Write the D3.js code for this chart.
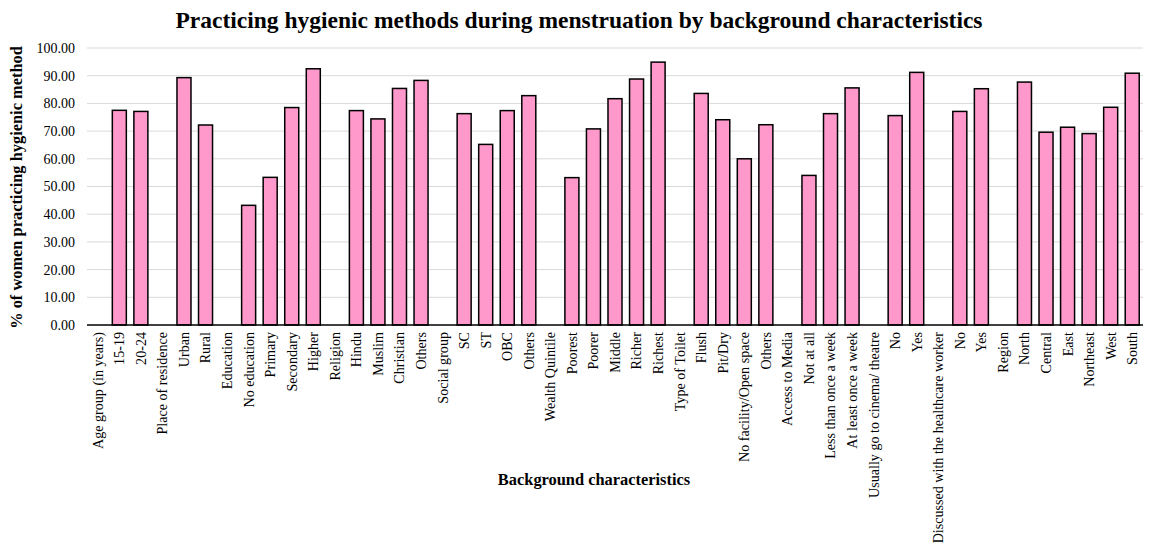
<!DOCTYPE html>
<html>
<head>
<meta charset="utf-8">
<script src="https://cdn.jsdelivr.net/npm/d3@7"></script>
<style>
  html, body { margin: 0; padding: 0; background: #fff; }
  svg { display: block; }
  svg text { font-family: "Liberation Serif", "Times New Roman", serif; fill: #000; }
</style>
</head>
<body>
<svg id="chart" width="1152" height="544"></svg>
<script>
// Category labels along the x axis (group headers have no bar)
const categories = [
  "Age group (in years)", "15-19", "20-24",
  "Place of residence", "Urban", "Rural",
  "Education", "No education", "Primary", "Secondary", "Higher",
  "Religion", "Hindu", "Muslim", "Christian", "Others",
  "Social group", "SC", "ST", "OBC", "Others",
  "Wealth Quintile", "Poorest", "Poorer", "Middle", "Richer", "Richest",
  "Type of Toilet", "Flush", "Pit/Dry", "No facility/Open space", "Others",
  "Access to Media", "Not at all", "Less than once a week", "At least once a week",
  "Usually go to cinema/ theatre", "No", "Yes",
  "Discussed with the healthcare worker", "No", "Yes",
  "Region", "North", "Central", "East", "Northeast", "West", "South"
];

// % of women practicing hygienic method (null = group header)
const values = [
  null, 77.5, 77.1,
  null, 89.3, 72.2,
  null, 43.2, 53.3, 78.5, 92.5,
  null, 77.4, 74.4, 85.4, 88.3,
  null, 76.3, 65.2, 77.4, 82.8,
  null, 53.2, 70.8, 81.7, 88.8, 94.9,
  null, 83.6, 74.1, 60.0, 72.3,
  null, 54.0, 76.3, 85.6,
  null, 75.6, 91.2,
  null, 77.1, 85.3,
  null, 87.7, 69.6, 71.4, 69.1, 78.6, 90.9
];

const yTicks = [0, 10, 20, 30, 40, 50, 60, 70, 80, 90, 100];

const data = categories.map((c, i) => ({ key: i, label: c, value: values[i] }));

const svg = d3.select("#chart");
const margin = { left: 87, right: 9, top: 48, bottom: 219 };
const W = 1152, H = 544;
const plotW = W - margin.left - margin.right;
const plotH = H - margin.top - margin.bottom;
const serif = "'Liberation Serif', 'Times New Roman', serif";

const x = d3.scaleBand()
  .domain(data.map(d => d.key))
  .range([0, plotW])
  .paddingInner(0.35)
  .paddingOuter(0.175);

const y = d3.scaleLinear().domain([0, 100]).range([plotH, 0]);

const g = svg.append("g").attr("transform", `translate(${margin.left},${margin.top})`);

// Horizontal gridlines
g.append("g")
  .selectAll("line")
  .data(yTicks.filter(t => t > 0))
  .join("line")
  .attr("x1", 0).attr("x2", plotW)
  .attr("y1", d => y(d)).attr("y2", d => y(d))
  .attr("stroke", "#d9d9d9")
  .attr("stroke-width", 1);

// Y axis labels
const yAxis = d3.axisLeft(y)
  .tickValues(yTicks)
  .tickSize(0)
  .tickPadding(12)
  .tickFormat(d3.format(".2f"));
g.append("g")
  .call(yAxis)
  .attr("font-family", serif)
  .attr("font-size", 14)
  .call(s => s.select(".domain").remove())
  .selectAll("text")
  .style("font-family", serif)
  .style("font-size", "14px")
  .attr("fill", "#000");

// Bars
g.append("g")
  .selectAll("rect")
  .data(data.filter(d => d.value !== null))
  .join("rect")
  .attr("x", d => x(d.key))
  .attr("width", x.bandwidth())
  .attr("y", d => y(d.value))
  .attr("height", d => y(0) - y(d.value))
  .attr("fill", "#ff99cc")
  .attr("stroke", "#000")
  .attr("stroke-width", 1.5);

// X axis
const xAxis = d3.axisBottom(x)
  .tickSize(0)
  .tickPadding(0)
  .tickFormat(k => categories[k]);
const xg = g.append("g")
  .attr("transform", `translate(0,${plotH})`)
  .call(xAxis)
  .attr("font-family", serif)
  .attr("font-size", 14);
xg.select(".domain")
  .attr("stroke", "#000")
  .attr("stroke-width", 1.5)
  .attr("d", `M0,0H${plotW}`);
xg.selectAll("text")
  .style("font-family", serif)
  .style("font-size", "14.1px")
  .attr("fill", "#000")
  .attr("text-anchor", "end")
  .attr("transform", "rotate(-90)")
  .attr("x", -7)
  .attr("y", 0)
  .attr("dy", "0.35em");

// Title
svg.append("text")
  .attr("x", 579).attr("y", 28)
  .attr("text-anchor", "middle")
  .style("font-family", serif)
  .style("font-weight", "bold")
  .style("font-size", "23.5px")
  .text("Practicing hygienic methods during menstruation by background characteristics");

// Y axis title
svg.append("text")
  .attr("transform", `translate(22,${margin.top + plotH / 2 + 1}) rotate(-90)`)
  .attr("text-anchor", "middle")
  .style("font-family", serif)
  .style("font-weight", "bold")
  .style("font-size", "16.4px")
  .text("% of women practicing hygienic method");

// X axis title
svg.append("text")
  .attr("x", 594).attr("y", 485)
  .attr("text-anchor", "middle")
  .style("font-family", serif)
  .style("font-weight", "bold")
  .style("font-size", "16.4px")
  .text("Background characteristics");
</script>
</body>
</html>
